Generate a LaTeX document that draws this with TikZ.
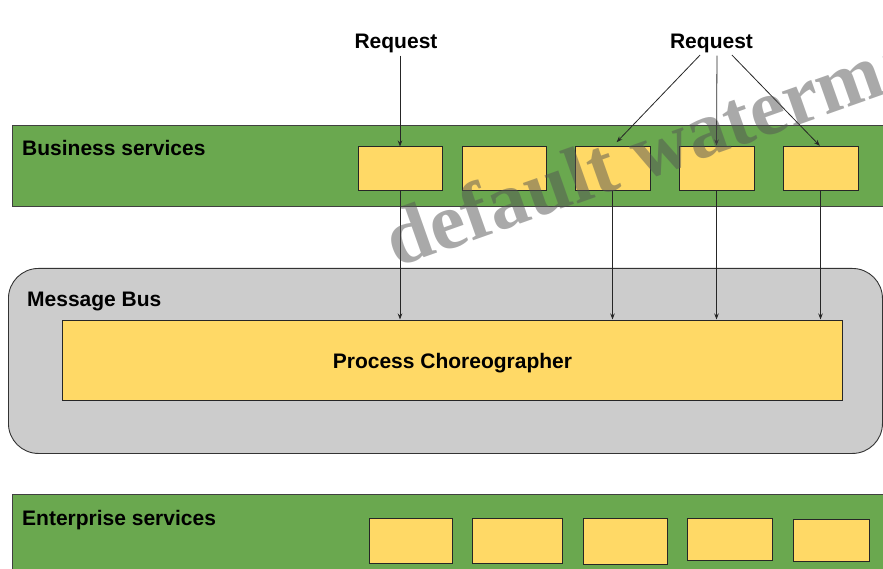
\documentclass[tikz,border=0pt]{standalone}
\usepackage{fontspec}
\setmainfont{Liberation Sans}
\newfontfamily\wmfont{Liberation Serif}
\usetikzlibrary{arrows.meta,positioning,calc}
\definecolor{bandgreen}{HTML}{6AA84F}
\definecolor{boxyellow}{HTML}{FFD966}
\definecolor{busgray}{HTML}{CCCCCC}
\tikzset{
  >={Stealth[length=6pt,width=4.5pt]},
  band/.style={draw=black!75,fill=bandgreen,line width=0.8pt,anchor=north west,
    inner sep=0pt},
  busbox/.style={draw=black!80,fill=busgray,line width=0.9pt,anchor=north west,
    rounded corners=30pt,inner sep=0pt},
  svcbox/.style={draw=black!85,fill=boxyellow,line width=1pt,inner sep=0pt},
  lbl/.style={font=\bfseries\fontsize{21}{25}\selectfont,inner sep=0pt},
  flow/.style={->,line width=0.8pt,black!85},
  wm/.style={font=\wmfont\bfseries\fontsize{80}{80}\selectfont,text=black!67,
    text opacity=0.5,inner sep=0pt},
}

\begin{document}
\begin{tikzpicture}[x=1pt,y=-1pt]
  \useasboundingbox (0,0) rectangle (883,569);

  % the three layers
  \node[band,minimum width=880pt,minimum height=81pt] (biz) at (12,125) {};
  \node[busbox,minimum width=874pt,minimum height=185pt] (bus) at (8,268) {};
  \node[band,minimum width=880pt,minimum height=100pt] (ent) at (12,494) {};

  \node[lbl,anchor=base west] (bizlbl) at (22,156) {Business services};
  \node[lbl,anchor=base west] (buslbl) at (27,306) {Message Bus};
  \node[lbl,anchor=base west] (entlbl) at (22,525) {Enterprise services};

  % choreographer inside the bus
  \node[svcbox,minimum width=780pt,minimum height=80pt] (chor) at (452,360) {};
  \node[lbl,anchor=base] (chorlbl) at (452.5,368) {Process Choreographer};

  % service boxes
  \foreach \k/\xc/\w in {1/400/84,2/504/84,3/612.5/75,4/716.5/75,5/820.5/75}
    \node[svcbox,minimum width=\w pt,minimum height=44pt] (bs\k) at (\xc,169) {};
  \foreach \k/\xc/\yc/\w/\h in {1/410.5/540.5/83/45,2/517/540.5/90/45,
                                3/625/541/84/46,4/729.5/539/85/42,5/831/540/76/42}
    \node[svcbox,minimum width=\w pt,minimum height=\h pt] (es\k) at (\xc,\yc) {};

  % incoming requests
  \node[lbl,anchor=base] (req1) at (396,49) {Request};
  \node[lbl,anchor=base] (req2) at (711.5,49) {Request};

  \draw[flow,shorten <=2pt] (req1.south -| bs1.north) -- (bs1.north);
  \draw[flow,shorten <=2pt,shorten >=6pt] ([xshift=-10pt]req2.south) -- (bs3.north);
  \draw[flow,shorten <=2pt,shorten >=1pt] ([xshift=5.5pt]req2.south) -- (bs4.north);
  \draw[flow,shorten <=2pt,shorten >=1pt] ([xshift=19pt]req2.south) -- (bs5.north);

  \foreach \k in {1,3,4,5}
    \draw[flow] (bs\k.south) -- (bs\k.south |- chor.north);

  \node[wm,rotate=19.5,anchor=base west] (mark) at (396,268) {default watermark};
\end{tikzpicture}
\end{document}
